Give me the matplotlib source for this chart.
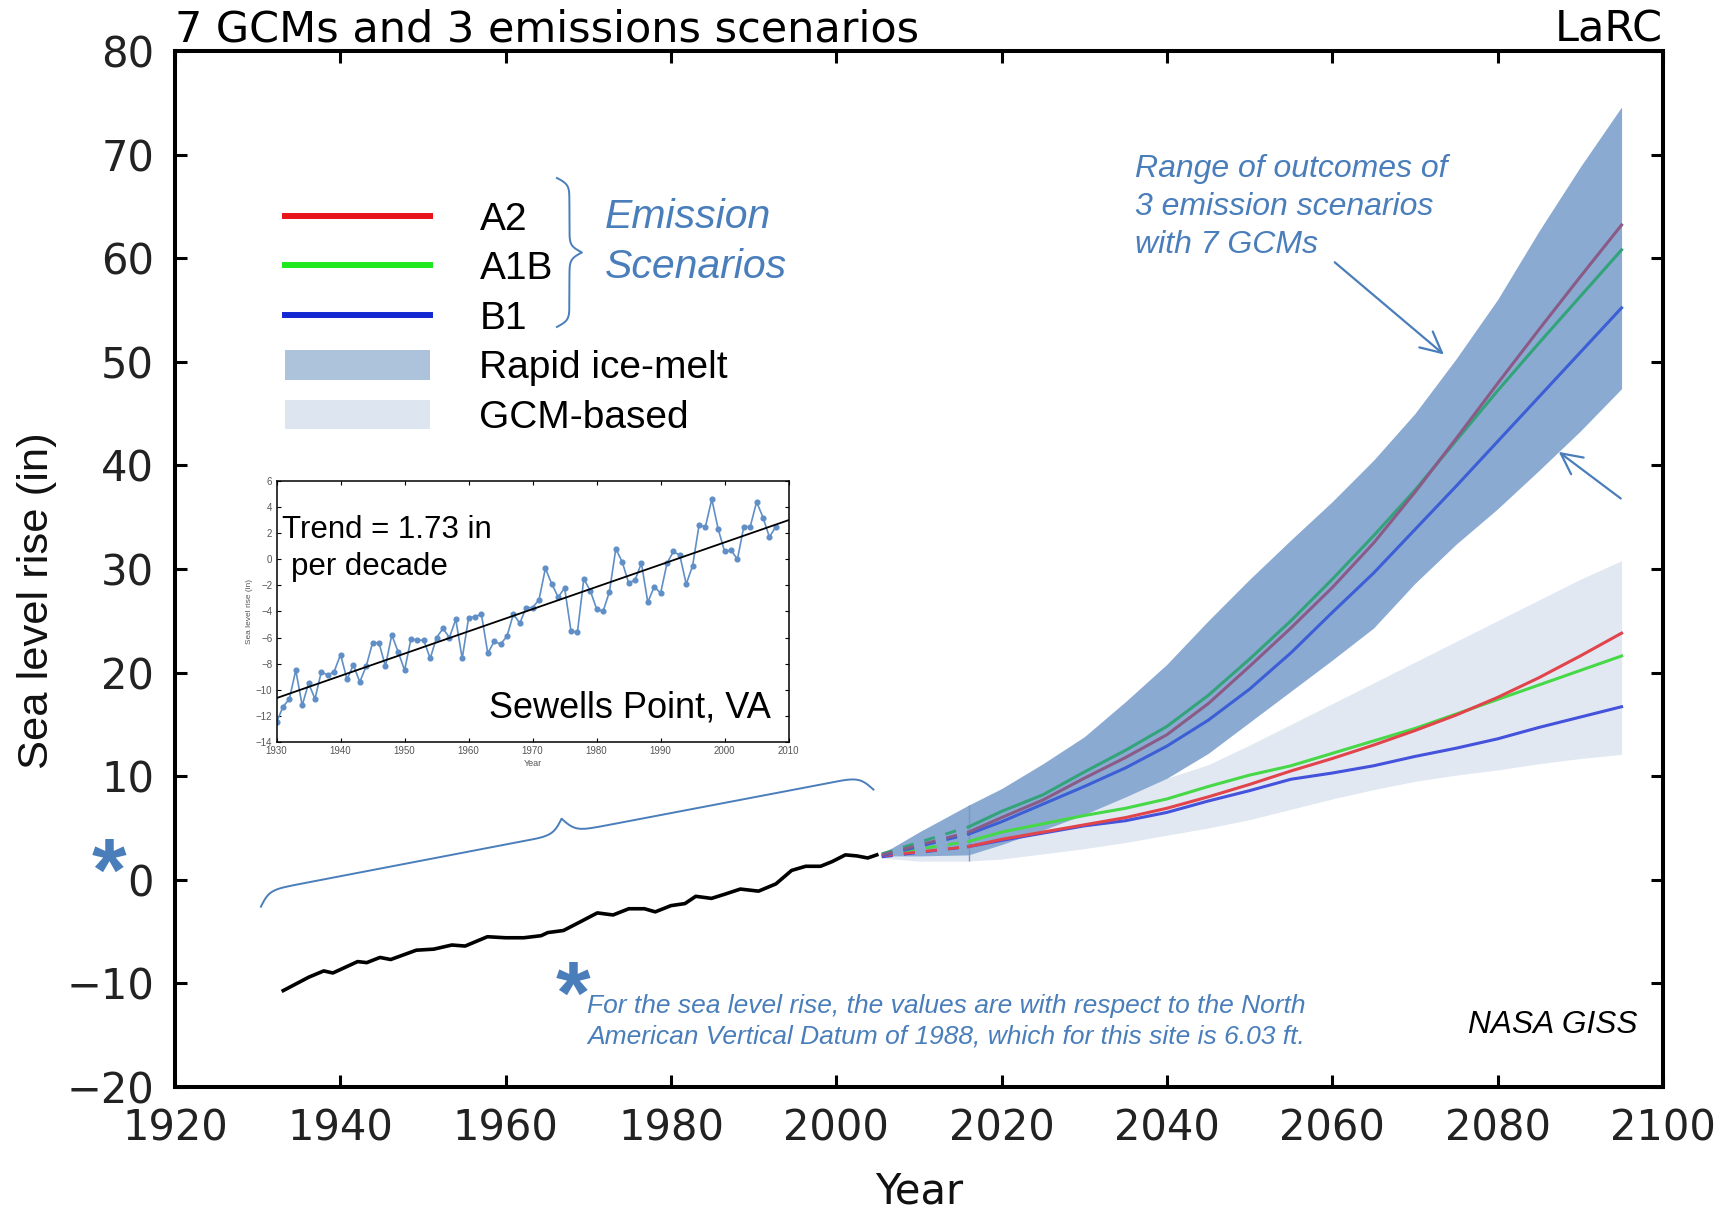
import numpy as np
import matplotlib
matplotlib.use('Agg')
import matplotlib.pyplot as plt
from matplotlib.lines import Line2D
from matplotlib.patches import Patch
from matplotlib.transforms import IdentityTransform

plt.rcParams['font.family'] = ['DejaVu Sans']

ARIAL = ['Liberation Sans', 'DejaVu Sans']
NOTE_BLUE = '#4a7ebb'

# observed tide-gauge record (smoothed), main panel
obs_year = [1933.1, 1936.2, 1938.0, 1939.1, 1942.1, 1943.2, 1944.8, 1946.1, 1949.2, 1951.3,
            1953.5, 1955.1, 1957.8, 1960.0, 1962.2, 1964.3, 1965.1, 1967.0, 1968.7, 1971.1,
            1973.0, 1974.9, 1976.8, 1978.1, 1980.0, 1981.7, 1983.0, 1984.9, 1986.5, 1988.4,
            1990.6, 1992.7, 1994.6, 1996.3, 1998.1, 1999.5, 2001.1, 2002.5, 2003.8, 2004.9]
obs_rise = [-10.7, -9.4, -8.8, -9.0, -7.9, -8.0, -7.5, -7.7, -6.8, -6.7,
            -6.3, -6.4, -5.5, -5.6, -5.6, -5.4, -5.1, -4.9, -4.2, -3.2,
            -3.4, -2.8, -2.8, -3.1, -2.5, -2.3, -1.6, -1.8, -1.4, -0.9,
            -1.1, -0.4, 0.9, 1.3, 1.3, 1.75, 2.4, 2.3, 2.1, 2.4]

# annual means at Sewells Point (inset)
gauge_year = list(range(1930, 2009))
gauge_rise = [-12.5, -11.3, -10.7, -8.5, -11.2, -9.5, -10.7, -8.6, -8.9, -8.6,
              -7.3, -9.2, -8.1, -9.4, -8.2, -6.4, -6.4, -8.2, -5.8, -7.1,
              -8.5, -6.1, -6.2, -6.2, -7.6, -6.0, -5.3, -6.0, -4.6, -7.6,
              -4.5, -4.4, -4.2, -7.2, -6.3, -6.5, -5.9, -4.2, -4.9, -3.7,
              -3.7, -3.1, -0.7, -1.9, -2.9, -2.2, -5.5, -5.6, -1.5, -2.4,
              -3.8, -4.0, -2.5, 0.8, -0.2, -1.8, -1.6, -0.3, -3.3, -2.1,
              -2.6, -0.3, 0.6, 0.3, -1.9, -0.5, 2.6, 2.5, 4.6, 2.3,
              0.6, 0.7, 0.0, 2.5, 2.5, 4.4, 3.2, 1.7, 2.5]

# scenario means (first segment 2005-2016 drawn dashed)
scen_year = [2005.5, 2016, 2020, 2025, 2030, 2035, 2040, 2045, 2050, 2055,
             2060, 2065, 2070, 2075, 2080, 2085, 2090, 2095]
rapid_a2 = [2.4, 4.6, 6.0, 7.7, 9.8, 11.8, 14.0, 17.0, 20.6, 24.3,
            28.2, 32.5, 37.4, 42.6, 47.9, 53.1, 58.2, 63.2]
rapid_a1b = [2.5, 5.1, 6.6, 8.2, 10.4, 12.5, 14.8, 17.8, 21.3, 25.0,
             29.0, 33.2, 37.6, 42.4, 47.2, 51.8, 56.3, 60.8]
rapid_b1 = [2.3, 4.4, 5.6, 7.3, 9.0, 10.8, 12.9, 15.4, 18.4, 21.9,
            25.8, 29.6, 33.8, 38.0, 42.3, 46.6, 50.9, 55.2]
gcm_a2 = [2.3, 3.2, 3.9, 4.6, 5.3, 6.0, 6.9, 8.0, 9.2, 10.5,
          11.7, 13.0, 14.4, 15.9, 17.6, 19.5, 21.6, 23.8]
gcm_a1b = [2.4, 3.7, 4.6, 5.4, 6.2, 6.9, 7.8, 9.0, 10.1, 11.0,
           12.2, 13.4, 14.6, 16.0, 17.4, 18.8, 20.2, 21.6]
gcm_b1 = [2.2, 3.2, 3.8, 4.5, 5.2, 5.7, 6.5, 7.6, 8.6, 9.7,
          10.3, 11.0, 11.9, 12.7, 13.6, 14.7, 15.7, 16.7]

# ranges over 7 GCMs x 3 scenarios
band_year = [2005.5, 2010, 2016, 2020, 2025, 2030, 2035, 2040, 2045, 2050,
             2055, 2060, 2065, 2070, 2075, 2080, 2085, 2090, 2095]
rapid_hi = [2.5, 4.6, 7.2, 8.8, 11.2, 13.8, 17.2, 20.8, 25.0, 29.0,
            32.8, 36.5, 40.5, 45.0, 50.3, 56.0, 62.6, 68.8, 74.6]
rapid_lo = [2.3, 2.3, 2.4, 3.4, 4.8, 6.3, 8.0, 9.8, 12.2, 15.2,
            18.2, 21.2, 24.3, 28.6, 32.4, 35.8, 39.5, 43.3, 47.4]
gcm_hi = [2.4, 3.6, 4.6, 5.3, 6.2, 7.2, 8.4, 9.8, 11.1, 13.0,
          15.0, 17.0, 19.0, 21.0, 23.0, 25.0, 27.0, 29.0, 30.8]
gcm_lo = [2.1, 1.8, 1.8, 2.0, 2.5, 3.0, 3.6, 4.3, 5.0, 5.8,
          6.8, 7.8, 8.7, 9.5, 10.1, 10.6, 11.2, 11.7, 12.1]


def draw_brace(ax, p0, p1, height, beta, **kw):
    # curly brace between two display points, bulging to the left of p0->p1
    p0 = np.asarray(p0, float)
    p1 = np.asarray(p1, float)
    d = p1 - p0
    L = np.hypot(*d)
    u = d / L
    nrm = np.array([-u[1], u[0]])
    s = np.linspace(0, 0.5, 200)
    half = 1 / (1 + np.exp(-beta * (s - s[0]))) + 1 / (1 + np.exp(-beta * (s - s[-1])))
    y = np.concatenate([half, half[-2::-1]]) - half[0]
    t = np.linspace(0, 1, y.size)
    pts = p0 + np.outer(t * L, u) + np.outer(y * height, nrm)
    ax.plot(pts[:, 0], pts[:, 1], transform=IdentityTransform(), clip_on=False, **kw)


fig = plt.figure(figsize=(17.34, 12.10), dpi=100)
ax = fig.add_axes([0.1009, 0.1017, 0.8581, 0.8562])
ax.set_xlim(1920, 2100)
ax.set_ylim(-20, 80)

ax.fill_between(band_year, gcm_lo, gcm_hi, color='#e1e8f2', lw=0, zorder=1)
ax.fill_between(band_year, rapid_lo, rapid_hi, color='#8aaad2', lw=0, zorder=2)
ax.vlines(2016, np.interp(2016, band_year, gcm_lo), np.interp(2016, band_year, rapid_hi),
          color='#7d97bf', lw=1, zorder=2.5)

series = [(gcm_b1, '#4452dc'), (gcm_a1b, '#46d846'), (gcm_a2, '#e2444c'),
          (rapid_b1, '#3c5fd6'), (rapid_a1b, '#33a37a'), (rapid_a2, '#8a5b86')]
for vals, col in series:
    ax.plot(scen_year[:2], vals[:2], color=col, lw=2.0, ls=(0, (4, 4)), zorder=3)
    ax.plot(scen_year[1:], vals[1:], color=col, lw=2.2, zorder=3)

ax.plot(obs_year, obs_rise, color='black', lw=2.6, zorder=4)

# axes styling
ax.set_xticks(range(1920, 2101, 20))
ax.set_yticks(range(-20, 81, 10))
ax.tick_params(direction='in', length=8.6, width=2.2, top=True, right=True,
               labelsize=30, pad=15, labelcolor='#222222')
for sp in ax.spines.values():
    sp.set_linewidth(2.9)
ax.set_xlabel('Year', fontsize=30, color='#111111')
ax.xaxis.set_label_coords(0.5, -0.081)
ax.set_ylabel('Sea level rise (in)', fontsize=31.3, family=ARIAL, color='#111111')
ax.yaxis.set_label_coords(-0.079, 0.469)
ax.set_title('7 GCMs and 3 emissions scenarios', loc='left', fontsize=31, pad=7)
ax.set_title('LaRC', loc='right', fontsize=31, pad=7)

# legend
handles = [Line2D([], [], color='#e8141c', lw=4.3),
           Line2D([], [], color='#1ee81e', lw=4.3),
           Line2D([], [], color='#1428d2', lw=4.3),
           Patch(facecolor='#adc3dc', edgecolor='none'),
           Patch(facecolor='#dde5f0', edgecolor='none')]
labels = ['A2', 'A1B', 'B1', 'Rapid ice-melt', 'GCM-based']
ax.legend(handles, labels, loc='upper left', bbox_to_anchor=(0.0737, 0.8546),
          frameon=False, borderpad=0, borderaxespad=0, handlelength=3.75,
          handleheight=0.79, handletextpad=1.26, labelspacing=0.34,
          prop={'family': ARIAL, 'size': 28})
ax.text(0.289, 0.8398, 'Emission', transform=ax.transAxes, fontsize=29.5, style='italic',
        color=NOTE_BLUE, family=ARIAL, va='center')
ax.text(0.289, 0.7915, 'Scenarios', transform=ax.transAxes, fontsize=29.5, style='italic',
        color=NOTE_BLUE, family=ARIAL, va='center')

# annotations
range_lines = ['Range of outcomes of', '3 emission scenarios', 'with 7 GCMs']
for i, line in enumerate(range_lines):
    ax.text(0.645, 0.886 - i * 0.0367, line, transform=ax.transAxes, fontsize=23,
            style='italic', color=NOTE_BLUE, family=ARIAL, va='center')
arrow = dict(arrowstyle='->,head_length=0.5,head_width=0.25', color=NOTE_BLUE, lw=1.6,
             mutation_scale=30, shrinkA=0, shrinkB=0)
ax.annotate('', xy=(2073.5, 50.7), xytext=(2060.3, 59.6), arrowprops=arrow)
ax.annotate('', xy=(2087.4, 41.3), xytext=(2094.9, 36.8), arrowprops=arrow)

ax.text(0.983, 0.06, 'NASA GISS', transform=ax.transAxes, fontsize=22.8, style='italic',
        family=ARIAL, ha='right', va='center')

foot = ['For the sea level rise, the values are with respect to the North',
        'American Vertical Datum of 1988, which for this site is 6.03 ft.']
ax.text(0.2769, 0.0782, foot[0], transform=ax.transAxes, fontsize=19, style='italic',
        color=NOTE_BLUE, family=ARIAL, va='center')
ax.text(0.2769, 0.0483, foot[1], transform=ax.transAxes, fontsize=19, style='italic',
        color=NOTE_BLUE, family=ARIAL, va='center')
ax.text(-0.044, 0.181, '*', transform=ax.transAxes, fontsize=64, fontweight='bold',
        color=NOTE_BLUE, family=ARIAL, ha='center', va='baseline')
ax.text(0.2675, 0.062, '*', transform=ax.transAxes, fontsize=64, fontweight='bold',
        color=NOTE_BLUE, family=ARIAL, ha='center', va='baseline')

# braces
draw_brace(ax, ax.transData.transform((1930.4, -2.6)), ax.transData.transform((2004.5, 8.7)),
           height=30, beta=110, color=NOTE_BLUE, lw=1.4)
draw_brace(ax, ax.transAxes.transform((0.2567, 0.8774)), ax.transAxes.transform((0.2567, 0.7336)),
           height=25, beta=45, color=NOTE_BLUE, lw=1.4)

# inset: Sewells Point tide gauge
ins = fig.add_axes([0.1595, 0.3868, 0.2953, 0.2157])
ins.plot(gauge_year, gauge_rise, color='#5f8fc6', lw=1.2, marker='o', ms=3.4)
slope, icpt = np.polyfit(gauge_year, gauge_rise, 1)
xx = np.array([1930, 2010])
ins.plot(xx, slope * xx + icpt, color='black', lw=1.3)
ins.set_xlim(1930, 2010)
ins.set_ylim(-14, 6)
ins.set_xticks(range(1930, 2011, 10))
ins.set_yticks(range(-14, 7, 2))
ins.tick_params(direction='in', length=3, width=0.8, top=True, right=True,
                labelsize=7, pad=3, labelcolor='#555555')
for t in ins.get_xticklabels() + ins.get_yticklabels():
    t.set_family(ARIAL)
for sp in ins.spines.values():
    sp.set_linewidth(1.1)
ins.set_xlabel('Year', fontsize=6.5, color='#555555', family=ARIAL, labelpad=2)
ins.set_ylabel('Sea level rise (in)', fontsize=6, color='#555555', family=ARIAL, labelpad=2)
ins.text(0.011, 0.812, 'Trend = 1.73 in', transform=ins.transAxes, fontsize=22.5,
         family=ARIAL, va='center')
ins.text(0.028, 0.670, 'per decade', transform=ins.transAxes, fontsize=22.5,
         family=ARIAL, va='center')
ins.text(0.966, 0.130, 'Sewells Point, VA', transform=ins.transAxes, fontsize=26,
         family=ARIAL, ha='right', va='center')

fig.savefig('out.png', dpi=100)
